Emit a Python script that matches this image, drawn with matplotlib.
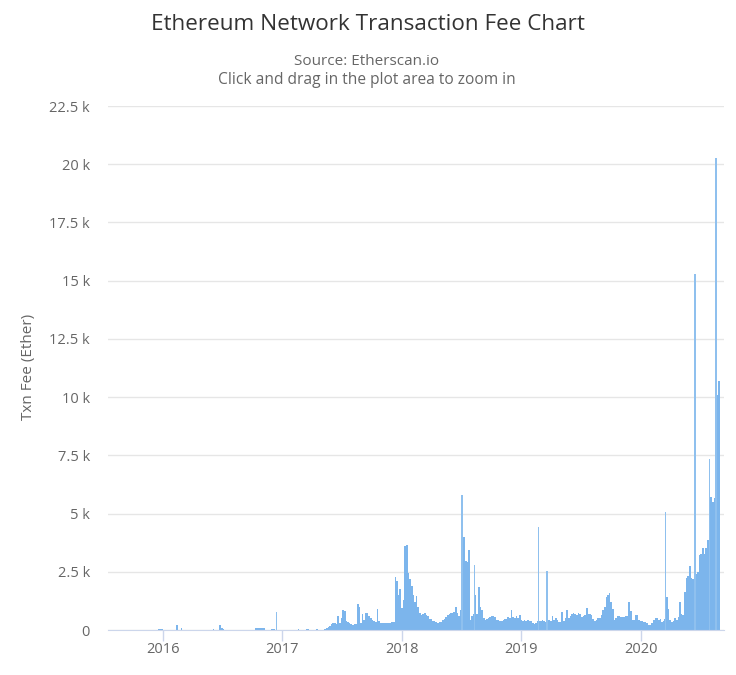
import matplotlib
matplotlib.use('Agg')
import matplotlib.pyplot as plt
import numpy as np

plt.rcParams['font.family'] = ['Open Sans', 'DejaVu Sans']
plt.rcParams['path.simplify'] = False

# quiet early period, decimal year and fee in ether
early_time = [
    2015.60, 2015.96, 2016.00, 2016.01, 2016.110, 2016.125, 2016.15, 2016.16,
    2016.42, 2016.43, 2016.470, 2016.482, 2016.50, 2016.51, 2016.77, 2016.85,
    2016.90, 2016.94, 2017.13, 2017.14, 2017.20, 2017.22, 2017.28, 2017.30, 2017.33,
]
early_value = [
    10, 60, 20, 10, 230, 20, 80, 10,
    50, 10, 230, 80, 60, 10, 70, 15,
    60, 20, 50, 15, 60, 15, 60, 15, 60,
]

# fee every five days from 2017.35 on
recent_start = 2017.35
recent_value = [
    60, 90, 140, 190, 240, 300, 280, 250, 620, 300, 500, 850, 820, 380, 330, 280,
    240, 220, 240, 260, 1115, 980, 300, 680, 430, 720, 750, 600, 520, 430, 400, 330,
    900, 380, 320, 300, 290, 280, 300, 320, 300, 330, 350, 2290, 2100, 1500, 1750, 950,
    1300, 3600, 3650, 2450, 2200, 1900, 1500, 1200, 1450, 1000, 750, 650, 680, 720, 650, 600,
    480, 460, 400, 370, 340, 310, 330, 350, 420, 480, 560, 630, 680, 720, 750, 760,
    1000, 720, 620, 850, 380, 3975, 2950, 2900, 3450, 420, 620, 680, 1500, 700, 1850, 1000,
    850, 500, 440, 470, 500, 560, 620, 600, 540, 430, 430, 370, 380, 420, 480, 460,
    540, 520, 860, 560, 500, 600, 520, 630, 450, 400, 420, 370, 440, 400, 370, 300,
    240, 300, 400, 400, 380, 420, 370, 330, 300, 420, 380, 620, 430, 500, 420, 360,
    350, 790, 400, 500, 850, 520, 600, 680, 720, 700, 660, 750, 680, 540, 600, 650,
    950, 680, 700, 640, 480, 400, 420, 520, 510, 640, 850, 1000, 1430, 1500, 1570, 1200,
    900, 430, 500, 620, 600, 540, 560, 540, 620, 580, 1215, 820, 440, 420, 640, 650,
    430, 400, 380, 350, 340, 320, 200, 220, 300, 420, 500, 520, 430, 480, 350, 400,
    480, 1430, 900, 430, 350, 400, 500, 450, 550, 1215, 700, 640, 1640, 2215, 2300, 2745,
    2250, 2200, 2100, 2400, 2500, 3200, 3250, 3530, 3250, 3530, 3860, 5900, 5700, 5500, 5650, 10000,
    10100, 10700, 10700,
]

# single-day spikes
spike_time = [2016.952, 2018.504, 2018.608, 2019.146, 2019.216, 2020.207, 2020.453, 2020.577, 2020.63]
spike_value = [760, 5790, 2790, 4430, 2545, 5075, 15300, 7350, 20250]

year_ticks = [2016, 2017, 2018, 2019, 2020]
fee_ticks = [0, 2500, 5000, 7500, 10000, 12500, 15000, 17500, 20000, 22500]
fee_labels = ['0', '2.5 k', '5 k', '7.5 k', '10 k', '12.5 k', '15 k', '17.5 k', '20 k', '22.5 k']

W, H = 736, 675
fig = plt.figure(figsize=(W / 100, H / 100), dpi=100)
ax = fig.add_axes([108 / W, 1 - 630 / H, 616 / W, 524 / H])

recent_time = recent_start + np.arange(len(recent_value)) * 5 / 365
ax.fill_between(early_time, early_value, 0, step='post', color='#7cb5ec', lw=0)
ax.fill_between(recent_time, recent_value, 0, step='post', color='#7cb5ec', lw=0)
ax.bar(spike_time, spike_value, width=0.013, color='#8fc0ee', lw=0)

ax.set_xlim(2015.539, 2020.698)
ax.set_ylim(0, 22500)
ax.set_xticks(year_ticks)
ax.set_xticklabels([str(y) for y in year_ticks])
ax.set_yticks(fee_ticks)
ax.set_yticklabels(fee_labels)
ax.set_axisbelow(True)
ax.grid(axis='y', color='#e6e6e6', lw=1)
ax.tick_params(axis='x', color='#ccd6eb', length=8, width=1, labelcolor='#666666', labelsize=10.5, pad=0.5)
ax.tick_params(axis='y', length=0, labelcolor='#666666', labelsize=10.5, pad=13)
for s in ['top', 'left', 'right']:
    ax.spines[s].set_visible(False)
ax.spines['bottom'].set_color('#ccd6eb')
ax.set_ylabel('Txn Fee (Ether)', color='#666666', fontsize=11)
ax.yaxis.set_label_coords((36 - 108) / 616, (630 - 367) / 524)

fig.text(368 / W, 1 - 24 / H, 'Ethereum Network Transaction Fee Chart', ha='center', va='center',
         color='#333333', fontsize=16.2)
fig.text(367 / W, 1 - 61.5 / H, 'Source: Etherscan.io', ha='center', va='center', color='#666666', fontsize=11)
fig.text(367 / W, 1 - 79.5 / H, 'Click and drag in the plot area to zoom in', ha='center', va='center',
         color='#666666', fontsize=11.2)

fig.savefig('out.png', dpi=100)
